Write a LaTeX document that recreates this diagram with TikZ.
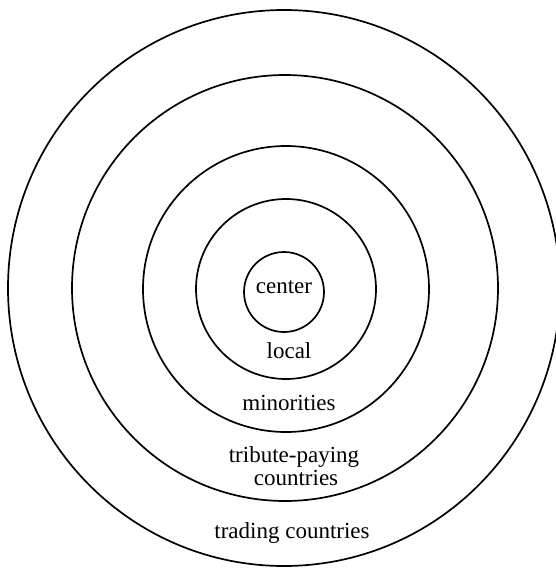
\documentclass[tikz,border=0pt]{standalone}
\usepackage{fontspec}
\setmainfont{Liberation Serif}
\begin{document}
\begin{tikzpicture}[x=1pt,y=-1pt,
  ring/.style={draw=black,line width=1.7pt},
  lbl/.style={font=\fontsize{23}{26}\selectfont,inner sep=0pt,anchor=base}]
\useasboundingbox (0,0) rectangle (556,568);
\clip (0,0) rectangle (556,568);
\fill[white] (0,0) rectangle (556,568);
\draw[ring] (284,288) ellipse [x radius=276,y radius=278];
\draw[ring] (285,288) circle [radius=213];
\draw[ring] (286,289) circle [radius=143];
\draw[ring] (286,289) circle [radius=90];
\draw[ring] (284,292) circle [radius=40];
\node[lbl] (c) at (284,293) {center};
\node[lbl] (l) at (289,358) {local};
\node[lbl] (m) at (289,410) {minorities};
\node[lbl] (t1) at (294,462) {tribute-paying};
\node[lbl] (t2) at (296,485) {countries};
\node[lbl] (tr) at (292,538) {trading countries};
\end{tikzpicture}
\end{document}
